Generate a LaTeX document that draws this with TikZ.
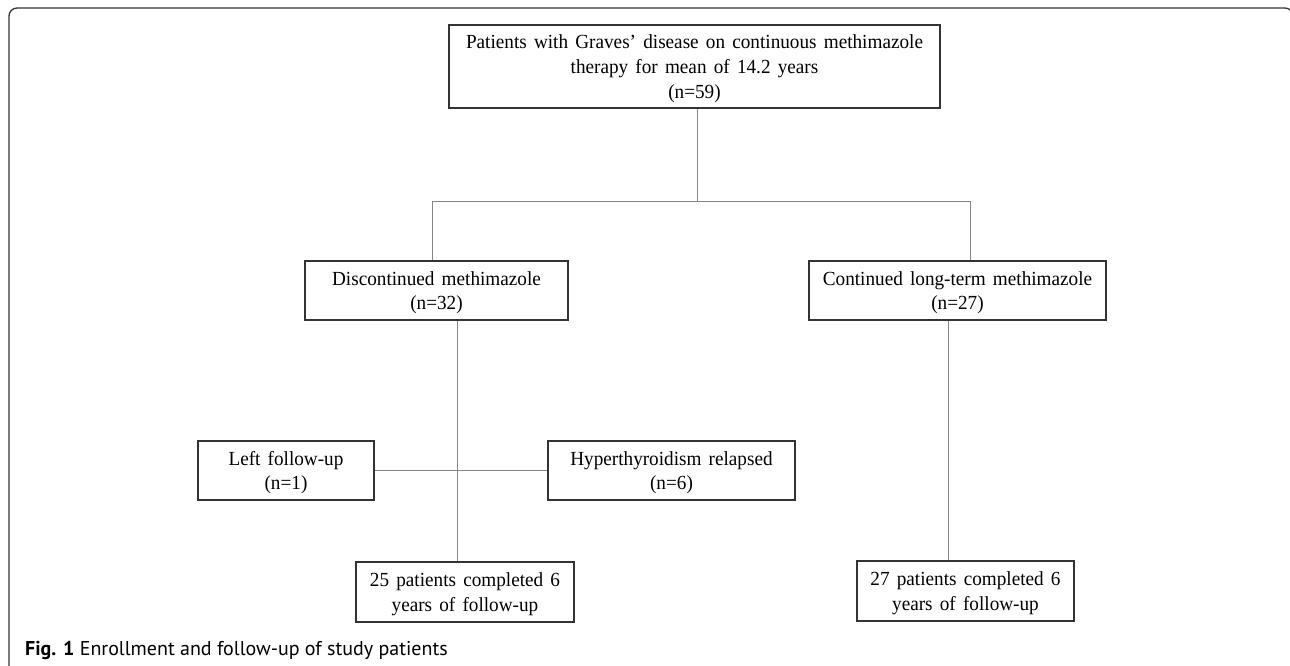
\documentclass[tikz,border=0pt]{standalone}
\usepackage{fontspec}
\setmainfont[WordSpace=1.5, FakeStretch=0.96]{Liberation Serif}
\newfontfamily\capfont{PT Sans}
\usetikzlibrary{positioning}
\definecolor{framegray}{HTML}{333333}
\definecolor{linegray}{HTML}{858585}

\begin{document}
\begin{tikzpicture}[x=1pt, y=-1pt,
        box/.style={draw=framegray, line width=1.3pt, align=center, inner sep=0pt,
            text depth=-3.5pt, font=\fontsize{20}{24.8}\selectfont},
        link/.style={linegray, line width=1pt}]
        \useasboundingbox (0,0) rectangle (1290,666);
        \clip (0,0) rectangle (1290,666);

                % Draw the figure frame
                \draw[framegray, line width=1.3pt, rounded corners=8pt] (9,8) rectangle (1293,674);

                % Draw the study boxes
                \node[box, minimum width=491pt, minimum height=83pt] (top) at (694.5,66.5) {Patients with Graves' disease on continuous methimazole\\therapy for mean of 14.2 years\\(n=59)};
                \node[box, minimum width=263pt, minimum height=59pt] (disc) at (436.5,290.5) {Discontinued methimazole\\(n=32)};
                \node[box, minimum width=297pt, minimum height=59pt] (cont) at (957.5,290.5) {Continued long-term methimazole\\(n=27)};

                % Draw the boxes of the discontinued arm
                \node[box, minimum width=176pt, minimum height=59pt] (left) at (286,470.5) {Left follow-up\\(n=1)};
                \node[box, minimum width=247pt, minimum height=59pt] (hyper) at (671.5,470.5) {Hyperthyroidism relapsed\\(n=6)};
                \node[box, minimum width=218pt, minimum height=60pt] (done25) at (465,592) {25 patients completed 6\\years of follow-up};

                % Draw the box of the continued arm
                \node[box, minimum width=217pt, minimum height=60pt] (done27) at (965.5,591) {27 patients completed 6\\years of follow-up};

                % Draw the split coordinates
                \coordinate (split) at (697,201);
                \coordinate (splitL) at (432,201);
                \coordinate (splitR) at (970,201);

                % Draw edges from the top box to both arms
                \draw[link] (top.south -| split) -- (split);
                \draw[link] (splitL) -- (splitR);
                \draw[link] (splitL) -- (disc.north -| splitL);
                \draw[link] (splitR) -- (cont.north -| splitR);

                % Draw edges inside the discontinued arm
                \draw[link] ([xshift=20.5pt]disc.south) -- ([xshift=-8pt]done25.north);
                \draw[link] (left.east) -- (hyper.west);

                % Draw edges inside the continued arm
                \draw[link] ([xshift=-9.5pt]cont.south) -- ([xshift=-17.5pt]done27.north);

                % Draw the caption
                \node[anchor=west, inner sep=0pt, font=\capfont\fontsize{20}{24}\selectfont] (caption) at (25,650) {\textbf{Fig. 1} Enrollment and follow-up of study patients};
    \end{tikzpicture}
\end{document}
